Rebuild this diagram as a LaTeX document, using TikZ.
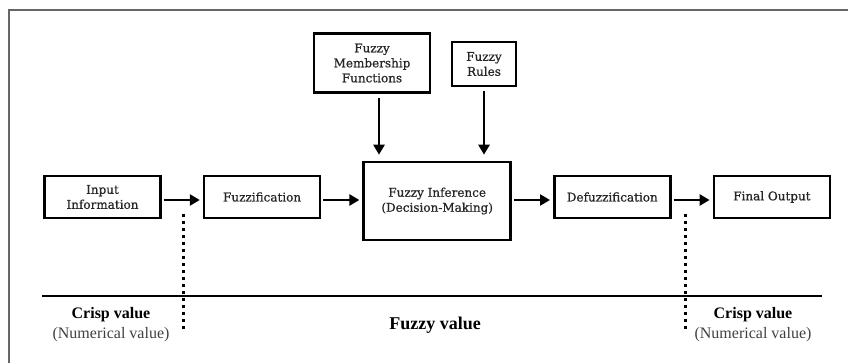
\documentclass[tikz,border=0pt]{standalone}
\usepackage{fontspec}
\setmainfont{Liberation Serif}
\newfontfamily\boxfont[FakeBold=0.8]{DejaVu Serif}
\usetikzlibrary{arrows.meta, positioning, calc}

\begin{document}
\begin{tikzpicture}[
		x=1pt, y=-1pt,
		node distance=41pt,
		stage/.style={draw, line width=2.6pt, minimum width=116pt, minimum height=42pt, align=center, inner sep=2pt, text=black!85, font=\boxfont\fontsize{12}{15}\selectfont},
		flow/.style={-{Triangle[length=10pt,width=11pt]}, line width=2.6pt, shorten <=2pt, shorten >=3pt},
		cut/.style={line width=3pt, dash pattern=on 3pt off 4pt},
		crisp/.style={font=\bfseries\fontsize{16}{18}\selectfont},
		numval/.style={text=black!75, font=\fontsize{16}{18}\selectfont},
		black
		]
	
		\useasboundingbox (0,0) rectangle (848,363);
		\draw[black!60, line width=1.2pt] (9,363) -- (9,10) -- (848,10);
		
		% main chain
		\node[stage] at (102.5,197) (input) {Input\\Information};
		\node[stage, right = of input] (fuzz) {Fuzzification};
		\node[stage, right = of fuzz, minimum width=147pt, minimum height=78pt, yshift=-4pt] (infer) {Fuzzy Inference\\(Decision-Making)};
		\node[stage, right = of infer, yshift=4pt] (defuzz) {Defuzzification};
		\node[stage, right = of defuzz] (output) {Final Output};
		
		% knowledge base
		\node[stage, minimum height=59pt] at (372,63) (member) {Fuzzy\\Membership\\Functions};
		\node[stage, minimum width=64pt, minimum height=44pt] at (484,64) (rules) {Fuzzy\\Rules};
		
		\draw[flow] ([yshift=-3pt]input.east) -- ([yshift=-3pt]input.east -| fuzz.west);
		\draw[flow] ([yshift=-3pt]fuzz.east) -- ([yshift=-3pt]fuzz.east -| infer.west);
		\draw[flow] ([yshift=-3pt]defuzz.west -| infer.east) -- ([yshift=-3pt]defuzz.west);
		\draw[flow] ([yshift=-3pt]defuzz.east) -- ([yshift=-3pt]defuzz.east -| output.west);
		\draw[flow, shorten <=4pt, shorten >=6pt] ([xshift=7pt]member.south) -- ([xshift=7pt]member.south |- infer.north);
		\draw[flow, shorten <=4pt, shorten >=6pt] (rules.south) -- (rules.south |- infer.north);
		
		% crisp / fuzzy borders
		\coordinate (lcuttop) at (183,214);
		\coordinate (lcutbot) at (183,331);
		\coordinate (rcuttop) at (685,214);
		\coordinate (rcutbot) at (685,329);
		\coordinate (axisl) at (42,296);
		\coordinate (axisr) at (822,296);
		\draw[line width=2.6pt] (axisl) -- (axisr);
		\draw[cut] (lcuttop) -- (lcutbot);
		\draw[cut] (rcuttop) -- (rcutbot);
		
		\node[crisp] at (111,315) (lcrisp) {Crisp value};
		\node[numval] at (111,335) (lnum) {(Numerical value)};
		\node[crisp, font=\bfseries\fontsize{18}{20}\selectfont] at (435,325) (fuzzy) {Fuzzy value};
		\node[crisp] at (753,315) (rcrisp) {Crisp value};
		\node[numval] at (753,335) (rnum) {(Numerical value)};
		
	\end{tikzpicture}
\end{document}
